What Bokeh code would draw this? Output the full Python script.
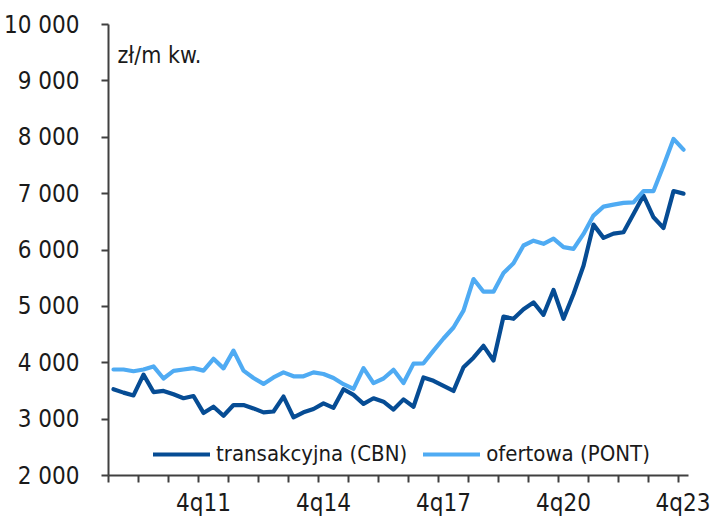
from bokeh.plotting import figure
from bokeh.models import FixedTicker, Range1d, Legend, LegendItem, Label, ColumnDataSource
from bokeh.embed import file_html
from bokeh.resources import INLINE

# quarters 3q09 .. 4q23
quarters = [f"{q}q{y:02d}" for y in range(9, 24) for q in range(1, 5)][2:]

transakcyjna = [3530, 3470, 3420, 3790, 3480, 3500, 3440, 3370, 3410, 3110,
                3220, 3060, 3250, 3250, 3190, 3120, 3135, 3400, 3030, 3120,
                3180, 3280, 3200, 3530, 3430, 3270, 3370, 3310, 3170, 3350,
                3220, 3740, 3680, 3590, 3500, 3920, 4090, 4300, 4040, 4820,
                4780, 4950, 5070, 4850, 5290, 4780, 5220, 5720, 6450, 6215,
                6290, 6315, 6640, 6965, 6580, 6390, 7045, 7000]

ofertowa = [3880, 3880, 3850, 3880, 3935, 3720, 3855, 3880, 3905, 3860,
            4070, 3900, 4215, 3860, 3730, 3625, 3740, 3830, 3760, 3760,
            3830, 3800, 3730, 3620, 3535, 3905, 3640, 3720, 3875, 3640,
            3985, 3990, 4215, 4430, 4625, 4925, 5485, 5260, 5260, 5590,
            5765, 6080, 6165, 6110, 6200, 6050, 6020, 6285, 6610, 6770,
            6805, 6835, 6845, 7045, 7045, 7495, 7970, 7780]

tick_labels = ["4q11", "4q14", "4q17", "4q20", "4q23"]
y_ticks = [2000, 3000, 4000, 5000, 6000, 7000, 8000, 9000, 10000]

x = list(range(len(quarters)))
src = ColumnDataSource(dict(x=x, t=transakcyjna, o=ofertowa))

FONT = "'DejaVu Sans Condensed', sans-serif"
TXT = "#1a1a1a"
AX = "#404040"

p = figure(width=710, height=519, output_backend="svg", toolbar_location=None,
           x_range=Range1d(-0.5, len(quarters) - 0.5), y_range=Range1d(2000, 10000),
           min_border_left=106, min_border_right=22, min_border_top=24, min_border_bottom=44)
p.outline_line_color = None
p.xgrid.grid_line_color = None
p.ygrid.grid_line_color = None

r1 = p.line("x", "t", source=src, line_color="#064C94", line_width=4.2,
            line_join="round", line_cap="round")
r2 = p.line("x", "o", source=src, line_color="#4FABF3", line_width=4.2,
            line_join="round", line_cap="round")

# x axis: tick marks every 3 quarters (between categories), labels every 12 quarters
major_pos = [quarters.index(lbl) for lbl in tick_labels]
minor_pos = [i - 0.5 for i in range(0, len(quarters), 3)]
xa = p.xaxis[0]
xa.ticker = FixedTicker(ticks=major_pos, minor_ticks=minor_pos)
xa.major_label_overrides = {pos: lbl for pos, lbl in zip(major_pos, tick_labels)}
xa.major_tick_out = 0
xa.major_tick_in = 0
xa.minor_tick_out = 7
xa.minor_tick_in = 0
xa.minor_tick_line_color = AX
xa.minor_tick_line_width = 2
xa.axis_line_color = AX
xa.axis_line_width = 2
xa.major_label_text_font = FONT
xa.major_label_text_font_size = "24px"
xa.major_label_text_color = TXT
xa.major_label_standoff = 6

# y axis
ya = p.yaxis[0]
ya.ticker = FixedTicker(ticks=y_ticks, minor_ticks=[])
ya.major_label_overrides = {v: f"{v:,}".replace(",", " ") for v in y_ticks}
ya.major_tick_out = 7
ya.major_tick_in = 0
ya.minor_tick_out = 0
ya.minor_tick_in = 0
ya.major_tick_line_color = AX
ya.major_tick_line_width = 2
ya.axis_line_color = AX
ya.axis_line_width = 2
ya.major_label_text_font = FONT
ya.major_label_text_font_size = "24px"
ya.major_label_text_color = TXT
ya.major_label_standoff = 22

unit = Label(x=0.4, y=9453, text="zł/m kw.", text_font=FONT, text_font_size="23px",
             text_color=TXT, text_align="left", text_baseline="alphabetic")
p.add_layout(unit)

legend = Legend(items=[LegendItem(label="transakcyjna (CBN)", renderers=[r1]),
                       LegendItem(label="ofertowa (PONT)", renderers=[r2])],
                orientation="horizontal", location=(45, 9),
                glyph_width=57, glyph_height=22, label_standoff=6, spacing=16,
                padding=0, margin=0, border_line_alpha=0, background_fill_alpha=0,
                label_text_font=FONT, label_text_font_size="22px", label_text_color=TXT)
p.add_layout(legend)

open("out.html", "w").write(file_html(p, INLINE))
